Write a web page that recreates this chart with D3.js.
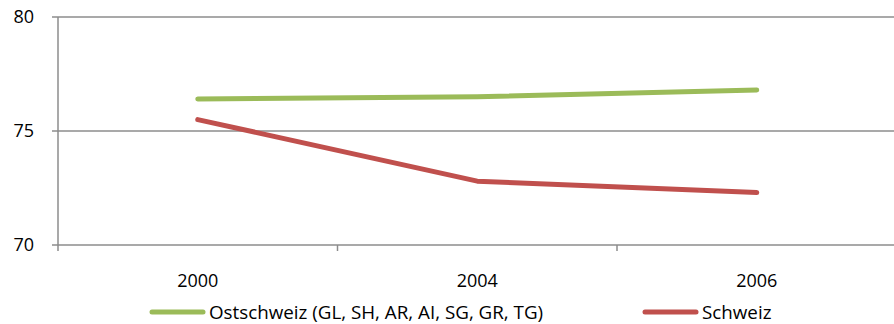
<!DOCTYPE html>
<html>
<head>
<meta charset="utf-8">
<script src="https://cdn.jsdelivr.net/npm/d3@7"></script>
<style>
  html, body { margin: 0; padding: 0; background: #fff; }
  svg { display: block; }
  text { font-family: "Open Sans", sans-serif; fill: #000; }
</style>
</head>
<body>
<svg id="chart" width="894" height="324"></svg>
<script>
// Jahre auf der x-Achse
const years = ["2000", "2004", "2006"];
// Werte je Region
const ostschweiz = [76.4, 76.5, 76.8];
const schweiz = [75.5, 72.8, 72.3];
// Beschriftung der y-Achse
const yTicks = [70, 75, 80];
const seriesNames = ["Ostschweiz (GL, SH, AR, AI, SG, GR, TG)", "Schweiz"];
const seriesColors = ["#9BBB59", "#C0504D"];

const svg = d3.select("#chart");
const plotLeft = 58, plotRight = 896.5, plotTop = 17, plotBottom = 245;
const fontSize = 18;
const legendFontSize = 18.8;

const x = d3.scaleBand().domain(years).range([plotLeft, plotRight]).paddingInner(0).paddingOuter(0);
const y = d3.scaleLinear().domain([70, 80]).range([plotBottom, plotTop]);

// horizontale Gitterlinien
svg.append("g")
  .selectAll("line")
  .data(yTicks)
  .join("line")
  .attr("x1", plotLeft - 6).attr("x2", 894)
  .attr("y1", d => y(d)).attr("y2", d => y(d))
  .attr("stroke", "#8c8c8c").attr("stroke-width", 1.5);

// y-Achse
svg.append("line")
  .attr("x1", plotLeft).attr("x2", plotLeft)
  .attr("y1", plotTop).attr("y2", plotBottom + 6)
  .attr("stroke", "#8c8c8c").attr("stroke-width", 1.5);

// Teilstriche zwischen den Kategorien
const boundaries = years.map(d => x(d)).concat([x(years[years.length - 1]) + x.bandwidth()]);
svg.append("g")
  .selectAll("line")
  .data(boundaries.slice(1))
  .join("line")
  .attr("x1", d => d).attr("x2", d => d)
  .attr("y1", plotBottom).attr("y2", plotBottom + 6)
  .attr("stroke", "#8c8c8c").attr("stroke-width", 1.5);

// Beschriftung y
svg.append("g")
  .selectAll("text")
  .data(yTicks)
  .join("text")
  .attr("x", 34).attr("y", d => y(d))
  .attr("dy", "0.36em")
  .attr("text-anchor", "end")
  .attr("font-size", fontSize)
  .text(d => d);

// Beschriftung x
svg.append("g")
  .selectAll("text")
  .data(years)
  .join("text")
  .attr("x", d => x(d) + x.bandwidth() / 2)
  .attr("y", 281)
  .attr("dy", "0.36em")
  .attr("text-anchor", "middle")
  .attr("font-size", fontSize)
  .text(d => d);

// Linien
const line = d3.line()
  .x((d, i) => x(years[i]) + x.bandwidth() / 2)
  .y(d => y(d));

[ostschweiz, schweiz].forEach((vals, i) => {
  svg.append("path")
    .datum(vals)
    .attr("d", line)
    .attr("fill", "none")
    .attr("stroke", seriesColors[i])
    .attr("stroke-width", 5)
    .attr("stroke-linecap", "round")
    .attr("stroke-linejoin", "round");
});

// Legende
const legendX = [152, 645];
seriesNames.forEach((name, i) => {
  const g = svg.append("g");
  g.append("line")
    .attr("x1", legendX[i]).attr("x2", legendX[i] + 51)
    .attr("y1", 312).attr("y2", 312)
    .attr("stroke", seriesColors[i])
    .attr("stroke-width", 5)
    .attr("stroke-linecap", "round");
  g.append("text")
    .attr("x", legendX[i] + 57)
    .attr("y", 312)
    .attr("dy", "0.36em")
    .attr("font-size", legendFontSize)
    .text(name);
});
</script>
</body>
</html>
